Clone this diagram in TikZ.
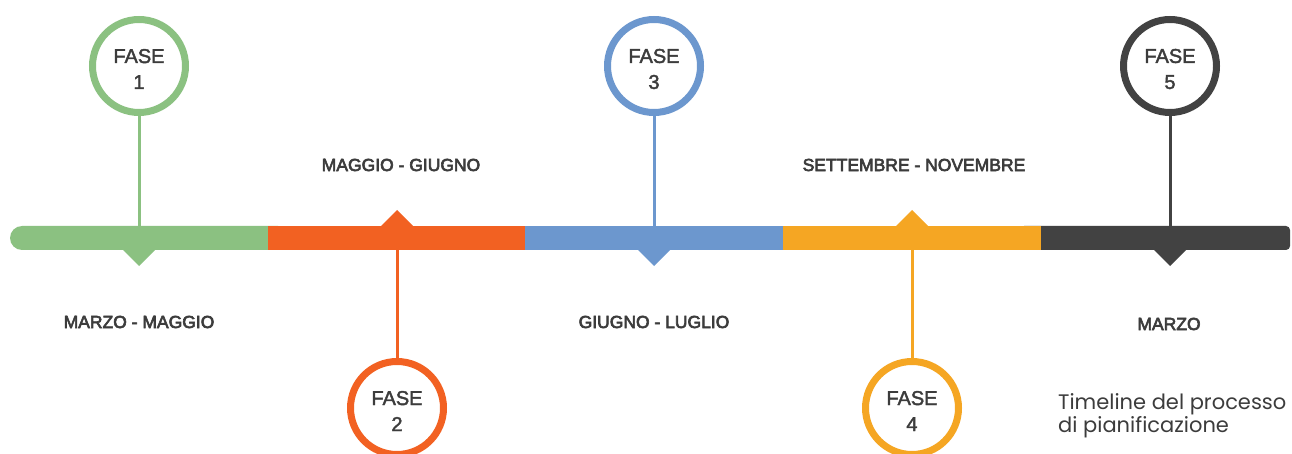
\documentclass[tikz,border=0pt]{standalone}
\usepackage{fontspec}
\setmainfont{Liberation Sans}
\newfontfamily\fasefont[FakeBold=2]{Liberation Sans}
\newfontfamily\datefont[FakeBold=3.5]{Liberation Sans}
\newfontfamily\captionfont{Poppins}
\definecolor{fasegreen}{HTML}{8BC181}
\definecolor{faseorange}{HTML}{F26122}
\definecolor{faseblue}{HTML}{6C97CE}
\definecolor{faseyellow}{HTML}{F5A623}
\definecolor{fasedark}{HTML}{424242}
\definecolor{fasetext}{HTML}{3C3C3C}
\tikzset{
	fasecircle/.style={circle,draw=#1,line width=7pt,fill=white,minimum size=93pt,inner sep=0pt,align=center,text=fasetext,font=\fasefont\fontsize{20}{26}\selectfont},
	stem/.style={draw=#1,line width=3pt},
	datelabel/.style={text=fasetext,font=\datefont\fontsize{17.5}{20}\selectfont}
}
\begin{document}
\begin{tikzpicture}[x=1pt,y=-1pt]
				\useasboundingbox (0,0) rectangle (1292,454);
				% phases above the bar
				\foreach \i/\xc/\col in {1/139/fasegreen,3/654/faseblue,5/1170/fasedark} {
					\node[fasecircle=\col] (f\i) at (\xc,66) {\rule{0pt}{20pt}FASE\\\i};
					\coordinate (b\i) at (\xc,238);
					\draw[stem=\col] (f\i) -- (b\i);
				}
				% phases below the bar
				\foreach \i/\xc/\col in {2/397/faseorange,4/912/faseyellow} {
					\node[fasecircle=\col] (f\i) at (\xc,408) {\rule{0pt}{20pt}FASE\\\i};
					\coordinate (b\i) at (\xc,238);
					\draw[stem=\col] (f\i) -- (b\i);
				}
				% the bar
				\fill[fasegreen,rounded corners=12pt] (10,226) rectangle (290,250);
				\fill[fasedark,rounded corners=4pt] (1020,226) rectangle (1290,250);
				\fill[faseorange] (268,226) rectangle (525.5,250);
				\fill[faseblue] (525,226) rectangle (783.5,250);
				\fill[faseyellow] (783,226) rectangle (1041,250);
				\foreach \xc/\col in {139/fasegreen,654/faseblue,1170/fasedark} \fill[\col] (\xc-17,249) to (\xc,266) to (\xc+17,249) to cycle;
				\foreach \xc/\col in {397/faseorange,912/faseyellow} \fill[\col] (\xc-17,227) to (\xc,210) to (\xc+17,227) to cycle;
				% dates
				\node[datelabel] (d1) at (139,322) {MARZO - MAGGIO};
				\node[datelabel] (d2) at (401,165) {MAGGIO - GIUGNO};
				\node[datelabel] (d3) at (654,322) {GIUGNO - LUGLIO};
				\node[datelabel] (d4) at (914,165) {SETTEMBRE - NOVEMBRE};
				\node[datelabel] (d5) at (1169,324) {MARZO};
				\node[anchor=base west,align=left,inner sep=0pt,text=fasetext,font=\captionfont\fontsize{21}{23}\selectfont] (cap) at (1058,432) {Timeline del processo\\di pianificazione};
			\end{tikzpicture}
\end{document}
